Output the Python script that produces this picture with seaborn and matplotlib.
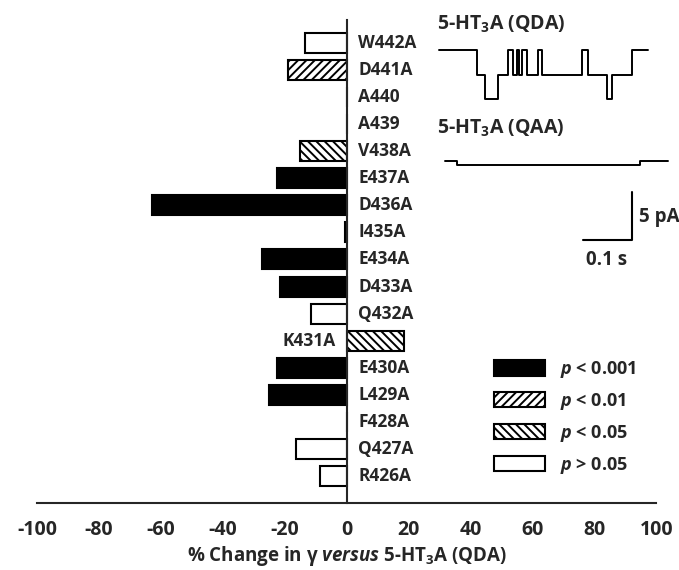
import numpy as np
import pandas as pd
import seaborn as sns
import matplotlib.pyplot as plt
from matplotlib.patches import Patch

# Bar data: % change in conductance vs 5-HT3A (QDA)
mutants = ["W442A", "D441A", "A440", "A439", "V438A", "E437A", "D436A", "I435A",
           "E434A", "D433A", "Q432A", "K431A", "E430A", "L429A", "F428A", "Q427A", "R426A"]
change = [-13.5, -19, 0, 0, -15, -22.5, -63, -0.7,
          -27.5, -21.5, -11.5, 18.5, -22.5, -25, 0, -16.5, -8.5]
signif = ["ns", "p01", "ns", "ns", "p05", "p001", "p001", "p001",
          "p001", "p001", "ns", "p05", "p001", "p001", "ns", "ns", "ns"]

# single channel traces (time in s, number of open channels)
qda_t = [0.018, 0.096, 0.112, 0.139, 0.160, 0.170, 0.177, 0.182, 0.187, 0.197,
         0.221, 0.228, 0.310, 0.323, 0.361, 0.371, 0.412, 0.445]
qda_open = [0, 1, 2, 1, 0, 1, 0, 1, 0, 1, 0, 1, 0, 1, 2, 1, 0, 0]
qaa_t = [0.031, 0.055, 0.429, 0.486]
qaa_open = [0, 1, 0, 0]

sig_style = {
    "p001": ("black", ""),
    "p01": ("white", "////"),
    "p05": ("white", "\\\\\\\\"),
    "ns": ("white", ""),
}
legend_labels = {
    "p001": r"$\mathit{p}$ < 0.001",
    "p01": r"$\mathit{p}$ < 0.01",
    "p05": r"$\mathit{p}$ < 0.05",
    "ns": r"$\mathit{p}$ > 0.05",
}

sns.set_style("white")
plt.rcParams["font.family"] = ["Open Sans", "DejaVu Sans"]
plt.rcParams["font.weight"] = "bold"
plt.rcParams["axes.unicode_minus"] = False
plt.rcParams["mathtext.fontset"] = "custom"
plt.rcParams["mathtext.rm"] = "Open Sans:bold"
plt.rcParams["mathtext.it"] = "Open Sans:italic:bold"
plt.rcParams["hatch.linewidth"] = 1.4

fig = plt.figure(figsize=(6.79, 5.70), dpi=100)
ax = fig.add_axes([37.2 / 679, 1 - 503 / 570, (656.2 - 37.2) / 679, (503 - 20) / 570])

df = pd.DataFrame({"mutant": mutants, "change": change, "sig": signif})
sns.barplot(data=df, x="change", y="mutant", order=mutants, orient="h",
            color="black", width=0.74, ax=ax, errorbar=None)

for patch, s in zip(ax.patches, signif):
    fc, h = sig_style[s]
    patch.set_facecolor(fc)
    patch.set_edgecolor("black")
    patch.set_linewidth(1.5)
    patch.set_hatch(h)

ax.set_xlim(-100, 100)
ax.set_ylim(len(mutants), -0.85)
ax.set_xticks(np.arange(-100, 101, 20))
ax.tick_params(axis="x", direction="out", length=5, width=1.5, labelsize=14, pad=7.5)
ax.set_yticks([])
ax.set_ylabel("")
ax.set_xlabel(r"% Change in γ $\mathit{versus}$ 5-HT$_3$A (QDA)", fontsize=13.5,
              fontweight="bold", labelpad=2.5)
for lab in ax.get_xticklabels():
    lab.set_fontweight("bold")

for side in ["top", "right"]:
    ax.spines[side].set_visible(False)
ax.spines["left"].set_position(("data", 0))
ax.spines["left"].set_linewidth(1.5)
ax.spines["bottom"].set_linewidth(1.5)
ax.spines["bottom"].set_bounds(-100, 100)

for i, (m, v) in enumerate(zip(mutants, change)):
    if v > 0:
        ax.text(-3.5, i, m, ha="right", va="center", fontsize=12.5, fontweight="bold")
    else:
        ax.text(3.8, i, m, ha="left", va="center", fontsize=12.5, fontweight="bold")

handles = [Patch(facecolor=sig_style[k][0], edgecolor="black", hatch=sig_style[k][1],
                 linewidth=1.5) for k in ["p001", "p01", "p05", "ns"]]
ax.legend(handles, [legend_labels[k] for k in ["p001", "p01", "p05", "ns"]],
          loc="upper left", bbox_to_anchor=(494 / 679, 1 - 359 / 570),
          bbox_transform=fig.transFigure, frameon=False,
          borderpad=0, borderaxespad=0, handlelength=2.83, handleheight=0.95,
          labelspacing=0.6, handletextpad=0.85, prop={"weight": "bold", "size": 13})

# inset with single channel traces
unit = 2.6  # pA per channel
ins = fig.add_axes([430 / 679, 1 - 275 / 570, 249 / 679, 260 / 570])

qda = pd.DataFrame({"t": qda_t, "i": -3.6 - unit * np.array(qda_open)})
qaa = pd.DataFrame({"t": qaa_t, "i": -15.2 - 0.4 * np.array(qaa_open)})
sns.lineplot(data=qda, x="t", y="i", drawstyle="steps-post", color="black",
             lw=1.4, ax=ins, estimator=None, sort=False)
sns.lineplot(data=qaa, x="t", y="i", drawstyle="steps-post", color="black",
             lw=1.4, ax=ins, estimator=None, sort=False)
ins.set_xlim(0, 249 / 490)
ins.set_ylim(-27.08, 0)
ins.axis("off")

# scale bars
ins.plot([0.312, 0.412, 0.412], [-23.44, -23.44, -18.44], color="black", lw=1.5)
ins.text(0.427, -21.0, "5 pA", ha="left", va="center", fontsize=13.5, fontweight="bold")
ins.text(0.361, -25.5, "0.1 s", ha="center", va="center", fontsize=13.5, fontweight="bold")
ins.text(0.014, -1.0, r"5-HT$_3$A (QDA)", ha="left", va="center", fontsize=14,
         fontweight="bold")
ins.text(0.014, -11.8, r"5-HT$_3$A (QAA)", ha="left", va="center", fontsize=14,
         fontweight="bold")

fig.savefig("out.png", dpi=100)
